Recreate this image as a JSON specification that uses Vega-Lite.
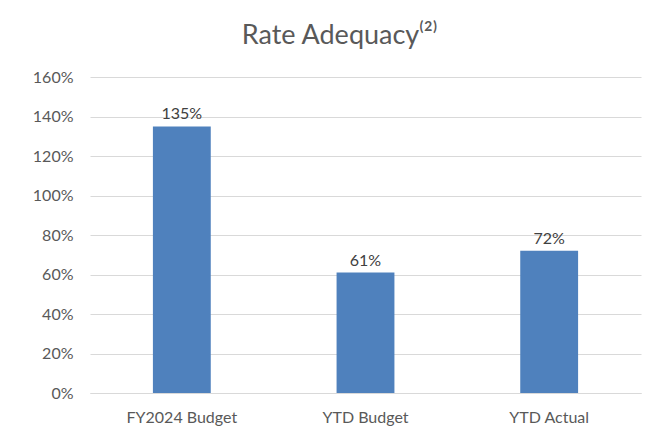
{
  "$schema": "https://vega.github.io/schema/vega-lite/v6.json",
  "autosize": "none",
  "width": 551,
  "height": 316,
  "padding": {"left": 90, "top": 77, "right": 15, "bottom": 48},
  "background": "white",
  "config": {
    "view": {"stroke": null},
    "font": "Lato"
  },
  "title": {
    "text": "Rate Adequacy⁽²⁾",
    "fontSize": 27,
    "fontWeight": "normal",
    "color": "#595959",
    "anchor": "middle",
    "frame": "group",
    "dx": -26,
    "offset": 19,
    "font": "Lato"
  },
  "data": {
    "values": [
      {"category": "FY2024 Budget", "value": 1.35},
      {"category": "YTD Budget", "value": 0.61},
      {"category": "YTD Actual", "value": 0.72}
    ]
  },
  "encoding": {
    "x": {
      "field": "category",
      "type": "nominal",
      "sort": null,
      "scale": {"paddingInner": 0, "paddingOuter": 0},
      "axis": {
        "title": null,
        "labelAngle": 0,
        "labelFontSize": 16,
        "labelColor": "#595959",
        "labelPadding": 16,
        "ticks": false,
        "domainColor": "#D9D9D9",
        "domainWidth": 1
      }
    },
    "y": {
      "field": "value",
      "type": "quantitative",
      "scale": {"domain": [0, 1.6], "nice": false},
      "axis": {
        "title": null,
        "format": ".0%",
        "values": [0, 0.2, 0.4, 0.6, 0.8, 1.0, 1.2, 1.4, 1.6],
        "labelFontSize": 16,
        "labelColor": "#595959",
        "labelPadding": 17,
        "ticks": false,
        "domain": false,
        "gridColor": "#D9D9D9",
        "gridWidth": 1
      }
    }
  },
  "layer": [
    {
      "mark": {"type": "bar", "color": "#4F81BD", "width": {"band": 0.315}}
    },
    {
      "mark": {"type": "text", "baseline": "bottom", "dy": -4, "fontSize": 16, "color": "#404040"},
      "encoding": {
        "text": {"field": "value", "type": "quantitative", "format": ".0%"}
      }
    }
  ]
}
